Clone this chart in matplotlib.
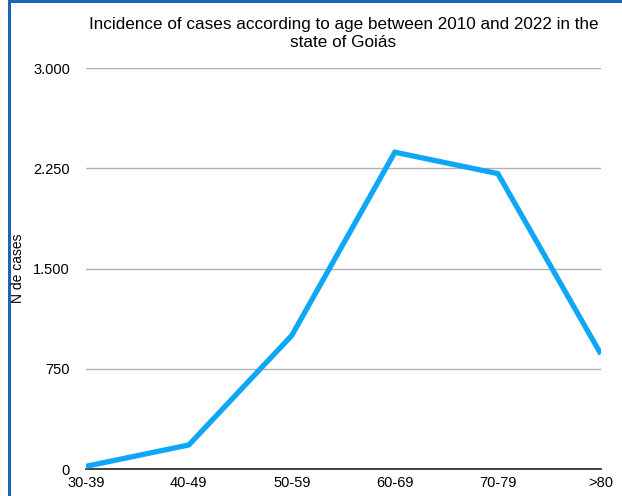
import matplotlib
matplotlib.use('Agg')

import matplotlib.pyplot as plt
from matplotlib.lines import Line2D
from matplotlib.ticker import FuncFormatter

faixas = ['30-39', '40-49', '50-59', '60-69', '70-79', '>80']
casos = [20, 180, 1000, 2370, 2210, 860]
marcas_y = [0, 750, 1500, 2250, 3000]

plt.rcParams['font.family'] = ['Liberation Sans', 'DejaVu Sans']

fig = plt.figure(figsize=(6.22, 4.96), dpi=100)
ax = fig.add_axes([0.138, 0.0544, 0.828, 0.8085])

x = list(range(len(faixas)))
ax.plot(x, casos, color='#0ea6f7', linewidth=3.8, solid_joinstyle='miter',
        solid_capstyle='butt', zorder=3)

ax.set_xlim(0, len(faixas) - 1)
ax.set_ylim(0, 3000)
ax.set_xticks(x)
ax.set_xticklabels(faixas, fontsize=10.5)
ax.set_yticks(marcas_y)
ax.yaxis.set_major_formatter(FuncFormatter(lambda v, p: f'{int(v):,}'.replace(',', '.')))
ax.tick_params(axis='y', labelsize=10.5, length=0, pad=11.5)
ax.tick_params(axis='x', length=0, pad=5)

ax.grid(axis='y', color='#b0b0b0', linewidth=1)
ax.set_axisbelow(True)
for lado in ['top', 'right', 'left']:
    ax.spines[lado].set_visible(False)
ax.spines['bottom'].set_color('#222222')
ax.spines['bottom'].set_linewidth(1.2)

# rótulo do eixo y
fig.text(18 / 622, 1 - 268 / 496, 'N de cases', rotation=90, fontsize=10,
         ha='center', va='center')

ax.set_title('Incidence of cases according to age between 2010 and 2022 in the\nstate of Goiás',
             fontsize=12.3, pad=15, linespacing=1.3)

# moldura azul (topo e esquerda)
fig.add_artist(Line2D([0.0145, 1.0], [0.998, 0.998], color='#1a66b0', linewidth=2.2,
                      transform=fig.transFigure))
fig.add_artist(Line2D([0.0145, 0.0145], [0.0, 0.998], color='#1a66b0', linewidth=2.2,
                      transform=fig.transFigure))

fig.savefig('out.png', dpi=100)
